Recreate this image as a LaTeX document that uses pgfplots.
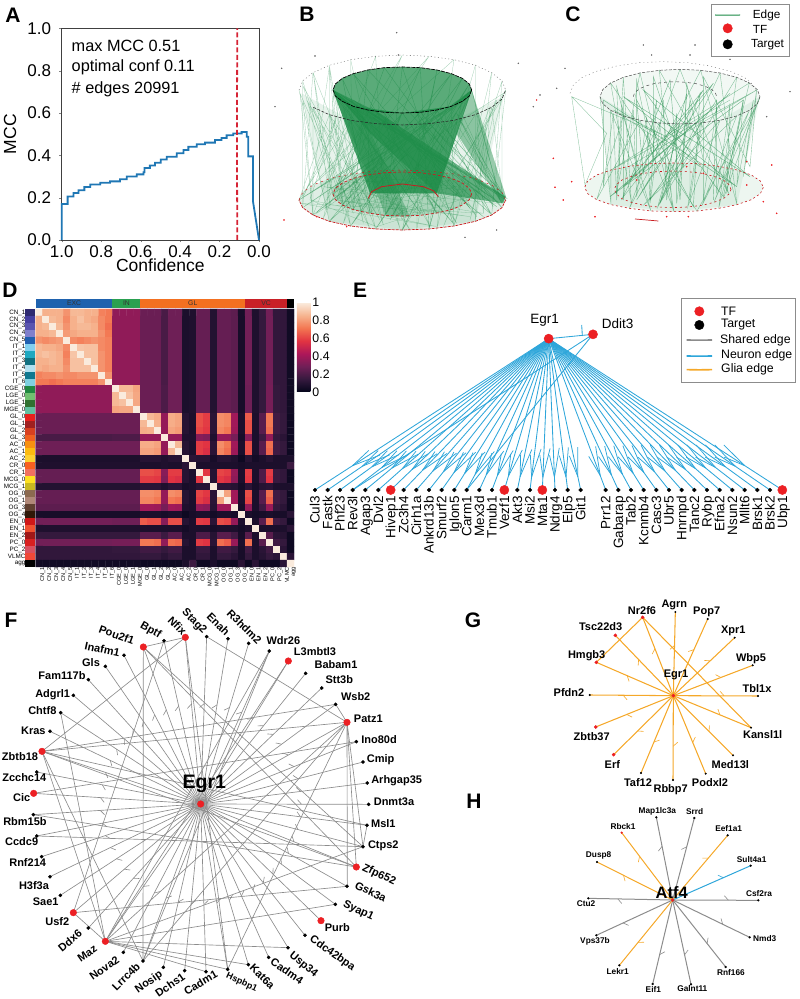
\documentclass[border=0pt]{standalone}
\usepackage{fontspec}
\setmainfont{Liberation Sans}
\usepackage{pgfplots}
\pgfplotsset{compat=1.18}
\usetikzlibrary{decorations.markings}
\definecolor{gr}{HTML}{1A8A45}
\definecolor{rd}{HTML}{EC2024}
\definecolor{fg}{HTML}{8C8C8C}
\definecolor{eb}{HTML}{2EA6DA}
\definecolor{eo}{HTML}{F5A829}
\definecolor{mccb}{HTML}{1F77B4}
\definecolor{redd}{HTML}{D62435}
\pgfplotsset{
 colormap={rocket}{rgb255(0cm)=(3,5,26) rgb255(1cm)=(53,25,62) rgb255(2cm)=(112,31,87) rgb255(3cm)=(173,23,89) rgb255(4cm)=(225,51,66) rgb255(5cm)=(243,118,81) rgb255(6cm)=(246,180,143) rgb255(7cm)=(250,235,221)},
 net/.style={hide axis,scale only axis,clip=false,y dir=reverse,anchor=center,enlargelimits=false},
}
\tikzset{
 bb/.style n args={2}{postaction={decorate},decoration={markings,mark=at position #1 with {\draw[#2,line width=.6pt,solid] (0,0)--(-4pt,4.5pt);}}},
 bbE/.style n args={2}{postaction={decorate},decoration={markings,mark=at position #1 with {\draw[#2,line width=.75pt,solid] (0,0)--(-4pt,6pt);\draw[#2,line width=.75pt,solid] (0,0)--(3pt,-4pt);}}},
 fl/.style={font=\fontsize{11}{12}\selectfont\bfseries,inner sep=0pt},
 gl/.style={font=\fontsize{11}{12}\selectfont\bfseries,inner sep=0pt},
 hl/.style={font=\fontsize{8.3}{9}\selectfont\bfseries,inner sep=0pt},
 el/.style={font=\fontsize{13.5}{14}\selectfont,inner sep=0pt,rotate=90,anchor=base east},
 let/.style={font=\fontsize{21}{21}\selectfont\bfseries,inner sep=0pt},
}
% heatmap rows
\def\Dcoords{}
\newcommand\Drow[2]{\edef\tmp{#2}\foreach \v [count=\i from 0] in \tmp {\xdef\Dcoords{\Dcoords(\i.5,\the\numexpr36-#1\relax.5)[\v]}}}
\def\G#1#2{#1,#1,#1,#1,#1,#1,#1,#1,#1,#1,#1,#2,#2,#2,#2}
\def\PE{.27,.27,.27,.19,.28,.28,.07,.08,.26,.26,.09,.26,.26,.24,.06,.29,.08,.14,.29,.13,.13,.04}
\def\PI{.27,.27,.27,.2,.28,.28,.07,.08,.26,.26,.09,.26,.26,.24,.06,.28,.08,.14,.3,.14,.13,.04}
\def\IE{.36,.36,.36,.36}
\def\EI{.36,.36,.36,.36,.36,.36,.36,.36,.36,.36,.36}
\Drow{0}{1,.85,.85,.85,.78,.87,.87,.85,.85,.74,.72,\IE,\PE}
\Drow{1}{.85,1,.87,.85,.76,.85,.89,.85,.83,.76,.72,\IE,\PE}
\Drow{2}{.85,.87,1,.87,.78,.85,.87,.87,.85,.76,.7,\IE,\PE}
\Drow{3}{.85,.85,.87,1,.8,.83,.85,.85,.85,.78,.72,\IE,\PE}
\Drow{4}{.78,.76,.78,.8,1,.76,.74,.76,.78,.76,.74,\IE,\PE}
\Drow{5}{.87,.85,.85,.83,.76,1,.9,.89,.89,.76,.74,\IE,\PE}
\Drow{6}{.87,.89,.87,.85,.74,.9,1,.89,.89,.78,.74,\IE,\PE}
\Drow{7}{.85,.85,.87,.85,.76,.89,.89,1,.89,.78,.74,\IE,\PE}
\Drow{8}{.85,.83,.85,.85,.78,.89,.89,.89,1,.78,.74,\IE,\PE}
\Drow{9}{.74,.76,.76,.78,.76,.76,.78,.78,.78,1,.78,\IE,\PE}
\Drow{10}{.72,.72,.7,.72,.74,.74,.74,.74,.74,.78,1,\IE,\PE}
\Drow{11}{\EI,1,.87,.87,.82,\PI}
\Drow{12}{\EI,.87,1,.89,.83,\PI}
\Drow{13}{\EI,.87,.89,1,.83,\PI}
\Drow{14}{\EI,.82,.83,.83,1,\PI}
\Drow{15}{\G{.27}{.27},1,.87,.84,.37,.84,.82,.1,.07,.63,.59,.11,.77,.75,.4,.07,.66,.07,.23,.72,.17,.14,.03}
\Drow{16}{\G{.27}{.27},.87,1,.85,.37,.84,.82,.1,.07,.63,.59,.11,.77,.75,.4,.07,.63,.07,.23,.72,.17,.14,.03}
\Drow{17}{\G{.27}{.27},.84,.85,1,.37,.82,.8,.1,.07,.61,.58,.11,.75,.72,.39,.07,.63,.07,.23,.7,.17,.14,.03}
\Drow{18}{\G{.19}{.2},.37,.37,.37,1,.37,.37,.08,.08,.34,.32,.08,.37,.37,.3,.06,.34,.07,.16,.36,.14,.11,.03}
\Drow{19}{\G{.28}{.28},.84,.84,.82,.37,1,.87,.1,.07,.59,.57,.11,.77,.72,.4,.07,.63,.07,.23,.7,.17,.14,.03}
\Drow{20}{\G{.28}{.28},.82,.82,.8,.37,.87,1,.1,.07,.59,.55,.11,.75,.7,.39,.07,.63,.07,.23,.68,.17,.14,.03}
\Drow{21}{\G{.07}{.07},.1,.1,.1,.08,.1,.1,1,.11,.1,.1,.06,.1,.1,.08,.03,.1,.05,.07,.1,.07,.07,.07}
\Drow{22}{\G{.08}{.08},.07,.07,.07,.08,.07,.07,.11,1,.07,.07,.07,.07,.07,.07,.06,.07,.07,.07,.07,.07,.07,.16}
\Drow{23}{\G{.26}{.26},.63,.63,.61,.34,.59,.59,.1,.07,1,.58,.1,.61,.59,.37,.07,.59,.07,.2,.59,.15,.13,.03}
\Drow{24}{\G{.26}{.26},.59,.59,.58,.32,.57,.55,.1,.07,.58,1,.1,.58,.55,.35,.07,.58,.07,.2,.57,.15,.13,.03}
\Drow{25}{\G{.09}{.09},.11,.11,.11,.08,.11,.11,.06,.07,.1,.1,1,.11,.11,.1,.05,.11,.06,.1,.11,.07,.07,.07}
\Drow{26}{\G{.26}{.26},.77,.77,.75,.37,.77,.75,.1,.07,.61,.58,.11,1,.82,.4,.07,.63,.07,.23,.7,.17,.14,.03}
\Drow{27}{\G{.26}{.26},.75,.75,.72,.37,.72,.7,.1,.07,.59,.55,.11,.82,1,.4,.07,.61,.07,.23,.66,.17,.14,.03}
\Drow{28}{\G{.24}{.24},.4,.4,.39,.3,.4,.39,.08,.07,.37,.35,.1,.4,.4,1,.06,.37,.07,.17,.38,.14,.11,.03}
\Drow{29}{\G{.06}{.06},.07,.07,.07,.06,.07,.07,.03,.06,.07,.07,.05,.07,.07,.06,1,.07,.05,.06,.07,.06,.06,.11}
\Drow{30}{\G{.29}{.28},.66,.63,.63,.34,.63,.63,.1,.07,.59,.58,.11,.63,.61,.37,.07,1,.07,.23,.7,.17,.14,.03}
\Drow{31}{\G{.08}{.08},.07,.07,.07,.07,.07,.07,.05,.07,.07,.07,.06,.07,.07,.07,.05,.07,1,.07,.07,.07,.07,.11}
\Drow{32}{\G{.14}{.14},.23,.23,.23,.16,.23,.23,.07,.07,.2,.2,.1,.23,.23,.17,.06,.23,.07,1,.23,.11,.1,.03}
\Drow{33}{\G{.29}{.3},.72,.72,.7,.36,.7,.68,.1,.07,.59,.57,.11,.7,.66,.38,.07,.7,.07,.23,1,.17,.14,.03}
\Drow{34}{\G{.13}{.14},.17,.17,.17,.14,.17,.17,.07,.07,.15,.15,.07,.17,.17,.14,.06,.17,.07,.11,.17,1,.11,.03}
\Drow{35}{\G{.13}{.13},.14,.14,.14,.11,.14,.14,.07,.07,.13,.13,.07,.14,.14,.11,.06,.14,.07,.1,.14,.11,1,.11}
\Drow{36}{\G{.04}{.04},.03,.03,.03,.03,.03,.03,.07,.16,.03,.03,.07,.03,.03,.03,.11,.03,.11,.03,.03,.03,.11,1}
\newcommand\Sl[2]{\definecolor{sl#1}{HTML}{#2}\addplot[fill=sl#1,draw=none] coordinates {(-1.53,#1)(-.17,#1)(-.17,#1+1)(-1.53,#1+1)} --cycle;}
\newcommand\St[3]{\definecolor{st#1}{HTML}{#3}\addplot[fill=st#1,draw=none] coordinates {(#1,37.1)(#2,37.1)(#2,38.45)(#1,38.45)} --cycle;}
% network macros
\newcommand\Fe[4]{\addplot[fg,line width=.65pt] coordinates {(#1,#2)(#3,#4)};}
\newcommand\Ft[6]{\addplot[fg,line width=.65pt,bb={.6}{fg}] coordinates {(602,642)(#1,#2)};
 \addplot[only marks,mark=*,mark size=1.6pt,black] coordinates {(#1,#2)};
 \node[fl,rotate=#6] at (axis cs:#4,#5) {#3};}
\newcommand\Fr[6]{\addplot[fg,line width=.65pt,bb={.6}{fg}] coordinates {(602,642)(#1,#2)};
 \addplot[only marks,mark=*,mark size=3.3pt,rd] coordinates {(#1,#2)};
 \node[fl,rotate=#6] at (axis cs:#4,#5) {#3};}
\newcommand\Et[2]{\addplot[eb,line width=.85pt,bbE={.75}{eb}] coordinates {(626,176)(#1,630)};
 \addplot[only marks,mark=*,mark size=1.9pt,black] coordinates {(#1,630)};
 \node[el] at (axis cs:#1+14,648) {#2};}
\newcommand\Er[2]{\addplot[eb,line width=.85pt,bbE={.75}{eb}] coordinates {(626,176)(#1,630)};
 \addplot[only marks,mark=*,mark size=4.6pt,rd] coordinates {(#1,630)};
 \node[el] at (axis cs:#1+14,648) {#2};}
\newcommand\Gt[5]{\addplot[eo,line width=1.05pt,bb={.6}{eo}] coordinates {(670,287)(#1,#2)};
 \addplot[only marks,mark=*,mark size=#5pt,black] coordinates {(#1,#2)};
 \node[gl] at (axis cs:#3) {#4};}
\newcommand\Gr[5]{\addplot[eo,line width=1.05pt,bb={.6}{eo}] coordinates {(670,287)(#1,#2)};
 \addplot[only marks,mark=*,mark size=#5pt,rd] coordinates {(#1,#2)};
 \node[gl] at (axis cs:#3) {#4};}
\newcommand\Hn[5]{\addplot[#4,line width=1pt,bb={.65}{#4}] coordinates {(668,900)(#1,#2)};
 \addplot[only marks,mark=*,mark size=.9pt,#5] coordinates {(#1,#2)};}
\begin{document}
\begin{tikzpicture}[x=1pt,y=1pt]
\path[use as bounding box] (0,0) rectangle (800,999);
% ---------- A
\begin{axis}[scale only axis,anchor=center,at={(160.35pt,864.85pt)},width=197.3pt,height=211.7pt,
 xmin=0,xmax=1,ymin=0,ymax=1,x dir=reverse,
 xtick={0,.2,.4,.6,.8,1},ytick={0,.2,.4,.6,.8,1},tick align=outside,major tick length=2.5pt,
 xtick pos=bottom,ytick pos=left,
 /pgf/number format/assume math mode=true,/pgf/number format/fixed,/pgf/number format/fixed zerofill,/pgf/number format/precision=1,
 tick label style={font=\fontsize{17}{18}\selectfont,inner sep=0pt},
 yticklabel style={xshift=-8pt},xticklabel style={yshift=-3pt},
 label style={font=\fontsize{17.5}{18}\selectfont,inner sep=0pt},
 xlabel={Confidence},ylabel={MCC},
 xlabel style={at={(axis description cs:.5,-.121)},anchor=center},
 ylabel style={at={(axis description cs:-.262,.5)},anchor=center},
 axis line style={black!75,line width=.6pt},clip=false]
\addplot[mccb,line width=1.8pt] coordinates {(1,0)(1,.17)(.97,.17)(.97,.205)(.94,.205)(.94,.222)(.915,.222)(.915,.235)(.885,.235)(.885,.25)(.855,.25)(.855,.262)(.805,.262)(.805,.27)(.755,.27)(.755,.277)(.705,.277)(.705,.287)(.67,.287)(.67,.3)(.62,.3)(.62,.31)(.585,.31)(.585,.32)(.58,.32)(.58,.34)(.553,.34)(.553,.352)(.527,.352)(.527,.365)(.498,.365)(.498,.38)(.468,.38)(.468,.393)(.417,.393)(.417,.41)(.383,.41)(.383,.425)(.358,.425)(.358,.44)(.316,.44)(.316,.452)(.274,.452)(.274,.46)(.223,.46)(.223,.472)(.19,.472)(.19,.482)(.164,.482)(.164,.495)(.13,.495)(.13,.503)(.088,.503)(.088,.51)(.0625,.51)(.0625,.488)(.054,.488)(.054,.395)(.03,.395)(.03,.18)(0,0)};
\addplot[draw=redd,line width=1.8pt,dash pattern=on 5pt off 2.5pt] coordinates {(.11,0)(.112,.5)(.11,1)};
\end{axis}
\node[anchor=west,inner sep=0pt,font=\fontsize{16.3}{17}\selectfont] at (71.5,953) {max MCC 0.51};
\node[anchor=west,inner sep=0pt,font=\fontsize{16.3}{17}\selectfont] at (71.5,932) {optimal conf 0.11};
\node[anchor=west,inner sep=0pt,font=\fontsize{16.3}{17}\selectfont] at (71.5,910) {\# edges 20991};
% ---------- B
\begin{axis}[net,at={(535pt,879pt)},width=530pt,height=240pt,xmin=0,xmax=1590,ymin=0,ymax=720]
\addplot[fill=gr,fill opacity=.1,draw=none] coordinates {(95,280)(178,664)(397,690)(616,664)(700,290)(552,361)(397,375)(242,361)} --cycle;
\addplot[fill=gr,fill opacity=.14,draw=none] coordinates {(87,600)(98,623)(129,645)(178,664)(242,678)(317,687)(397,690)(477,687)(552,678)(616,664)(665,645)(696,623)(707,600)(696,577)(665,555)(616,536)(552,522)(477,513)(397,510)(317,513)(242,522)(178,536)(129,555)(98,577)} --cycle;
\addplot[fill=gr,fill opacity=.18,draw=none] coordinates {(605,582)(598,599)(577,615)(544,629)(501,639)(451,646)(397,648)(343,646)(293,639)(250,629)(217,615)(196,599)(189,582)(196,565)(217,549)(250,535)(293,525)(343,518)(397,516)(451,518)(501,525)(544,535)(577,549)(598,565)} --cycle;
\addplot[fill=gr,fill opacity=.72,draw=none] coordinates {(605,270)(598,288)(577,304)(544,319)(501,330)(451,337)(397,339)(343,337)(293,330)(250,319)(217,304)(196,288)(189,270)(196,252)(217,235)(250,221)(293,210)(343,203)(397,201)(451,203)(501,210)(544,221)(577,235)(598,252)} --cycle;
\addplot[fill=gr,fill opacity=.8,draw=none] coordinates {(189,270)(300,580)(500,580)(605,270)(544,319)(397,339)(250,319)} --cycle;
\addplot[fill=gr,fill opacity=.6,draw=none] coordinates {(189,270)(330,340)(706,590)(700,610)(500,580)(300,400)} --cycle;
\addplot[fill=gr,fill opacity=.45,draw=none] coordinates {(605,270)(708,590)(695,610)(560,400)} --cycle;
\addplot[fill=gr,fill opacity=.35,draw=none] coordinates {(190,280)(350,650)(420,650)(270,330)} --cycle;
\addplot[gr,line width=.35pt,opacity=.55] coordinates {(189,270)(452,640)(196,288)(640,650)(217,304)(700,590)(250,319)(550,670)(189,270)(707,600)(293,330)(300,640)(217,235)(400,648)(343,337)(500,639)(250,221)(600,625)(397,339)(250,629)(293,210)(696,623)(451,337)(200,600)(343,203)(665,645)(501,330)(345,645)(397,201)(552,678)(544,319)(300,580)(451,203)(477,687)(577,304)(430,580)(501,210)(397,690)(598,288)(500,580)(605,270)(317,687)(598,252)(360,660)(577,235)(242,678)(544,221)(178,664)(605,270)(129,645)(598,288)(98,623)(544,319)(87,600)(501,330)(217,615)(397,339)(196,565)(293,330)(189,582)(605,270)(690,600)(560,340)(700,585)(480,335)(710,595)(189,270)(690,610)(250,300)(680,620)(300,320)(660,640)};
\addplot[gr,line width=.3pt,opacity=.4] coordinates {(87,270)(178,664)(98,297)(129,645)(129,322)(242,678)(178,344)(87,600)(242,361)(317,687)(129,218)(98,623)(98,243)(216,615)(178,196)(250,629)(242,179)(343,646)(317,169)(178,536)(397,165)(242,522)(477,169)(129,555)(552,179)(477,687)(616,196)(616,664)(665,218)(552,678)(696,243)(665,645)(707,270)(552,522)(696,297)(696,577)(665,322)(616,536)(616,344)(397,690)(552,361)(707,600)(477,371)(665,555)};
\addplot[gr,line width=.3pt,opacity=.4] coordinates {(130,322)(300,687)(178,344)(420,690)(242,361)(129,645)(90,280)(250,640)(110,300)(330,660)(100,260)(190,590)(130,220)(180,620)(178,200)(120,600)(200,350)(100,590)(240,300)(160,655)(300,350)(220,670)(350,350)(140,640)(700,280)(600,660)(680,300)(520,680)(660,320)(640,640)(620,340)(690,590)(580,350)(500,690)(540,360)(670,620)(500,370)(440,690)(450,360)(620,650)(400,370)(560,670)(350,360)(480,680)(300,350)(390,685)(260,340)(340,675)(220,320)(280,670)(200,300)(220,640)(190,280)(170,630)};
\addplot[gr,line width=.3pt,opacity=.35] coordinates {(190,585)(600,650)(200,600)(450,640)(220,550)(520,530)(260,620)(560,560)(300,530)(400,640)(350,520)(300,640)(420,520)(500,640)(480,525)(230,610)(540,540)(380,645)(590,570)(270,540)(600,590)(320,680)(120,600)(500,680)(90,610)(640,640)(160,560)(680,610)};
\addplot[black!70,line width=.35pt,dash pattern=on 1pt off 2.5pt] coordinates {(87,270)(98,243)(129,218)(178,196)(242,179)(317,169)(397,165)(477,169)(552,179)(616,196)(665,218)(696,243)(707,270)};
\addplot[black!85,line width=.55pt,dash pattern=on 3pt off 1.5pt] coordinates {(130,322)(178,344)(242,361)(317,371)(397,375)(477,371)(552,361)(616,344)(665,322)(696,297)(707,270)};
\addplot[black,line width=.7pt,dash pattern=on 4pt off 1pt] coordinates {(605,270)(598,288)(577,304)(544,319)(501,330)(451,337)(397,339)(343,337)(293,330)(250,319)(217,304)(196,288)(189,270)(196,252)(217,235)(250,221)(293,210)(343,203)(397,201)(451,203)(501,210)(544,221)(577,235)(598,252)(605,270)};
\addplot[rd!85!black,line width=.7pt,dash pattern=on 3pt off 1pt] coordinates {(707,600)(696,623)(665,645)(616,664)(552,678)(477,687)(397,690)(317,687)(242,678)(178,664)(129,645)(98,623)(87,600)};
\addplot[rd!85!black,line width=.5pt,dash pattern=on 2pt off 4pt] coordinates {(87,600)(98,577)(129,555)(178,536)(242,522)(317,513)(397,510)(477,513)(552,522)(616,536)(665,555)(696,577)(707,600)};
\addplot[rd!85!black,line width=.7pt,dash pattern=on 3pt off 2pt] coordinates {(605,582)(598,599)(577,615)(544,629)(501,639)(451,646)(397,648)(343,646)(293,639)(250,629)(217,615)(196,599)(189,582)(196,565)(217,549)(250,535)(293,525)(343,518)(397,516)(451,518)(501,525)(544,535)(577,549)(598,565)(605,582)};
\addplot[rd!85!black,line width=.8pt] coordinates {(295,595)(305,575)(335,560)(397,552)(460,560)(490,572)(505,590)};
\addplot[only marks,mark=*,mark size=.5pt,black!60] coordinates {(35,205)(15,320)(135,168)(385,165)(380,98)(585,712)(680,690)(745,190)(810,285)(790,320)};
\addplot[only marks,mark=*,mark size=.5pt,rd] coordinates {(42,660)(230,680)(140,650)(800,300)};
\end{axis}
% ---------- C
\begin{axis}[net,at={(535pt,879pt)},width=530pt,height=240pt,xmin=0,xmax=1590,ymin=0,ymax=720]
\addplot[fill=gr,fill opacity=.08,draw=none] coordinates {(990,290)(1023,614)(1212,635)(1401,614)(1470,290)(1350,361)(1230,372)(1110,361)} --cycle;
\addplot[fill=gr,fill opacity=.08,draw=none] coordinates {(1480,562)(1471,581)(1444,599)(1401,614)(1346,625)(1281,633)(1212,635)(1143,633)(1078,625)(1023,614)(980,599)(953,581)(944,562)(953,543)(980,525)(1023,510)(1078,499)(1143,491)(1212,489)(1281,491)(1346,499)(1401,510)(1444,525)(1471,543)} --cycle;
\addplot[fill=gr,fill opacity=.06,draw=none] coordinates {(1470,290)(1462,311)(1438,331)(1400,348)(1350,361)(1292,369)(1230,372)(1168,369)(1110,361)(1060,348)(1022,331)(998,311)(990,290)(998,269)(1022,249)(1060,232)(1110,219)(1168,211)(1230,208)(1292,211)(1350,219)(1400,232)(1438,249)(1462,269)} --cycle;
\addplot[gr,line width=.4pt,opacity=.5] coordinates {(990,290)(1023,614)(1022,331)(1143,633)(1060,348)(980,599)(1110,361)(1212,635)(1168,369)(1056,596)(1230,372)(1163,621)(1292,369)(1253,621)(1350,361)(1120,616)(1400,348)(1296,616)(1438,331)(1332,607)(1470,290)(1360,596)(1462,311)(1281,633)(1022,249)(1084,607)(1060,232)(1039,582)(1110,219)(1208,623)(1168,211)(1377,582)(1230,208)(1078,625)(1292,211)(1401,614)(1350,219)(1163,621)(1400,232)(1346,625)(1438,249)(1023,510)(1462,269)(1078,499)};
\addplot[gr,line width=.4pt,opacity=.6] coordinates {(1000,300)(1400,560)(1060,290)(1440,530)(1120,270)(1360,590)(1420,300)(1020,590)(1380,280)(1060,560)(1330,250)(1100,600)(1300,270)(1080,540)(1200,240)(1230,600)(1250,280)(1170,610)(1290,280)(1270,620)(1100,300)(1120,520)(1160,300)(1140,600)(1340,300)(1330,600)};
\addplot[gr,line width=.4pt,opacity=.5] coordinates {(1000,300)(1000,560)(1030,340)(1040,600)(1060,300)(1060,600)(1090,330)(1100,590)(1130,350)(1140,610)(1180,300)(1190,600)(1220,340)(1220,610)(1260,300)(1260,600)(1300,340)(1300,600)(1340,320)(1340,580)(1380,310)(1370,580)(1420,300)(1400,560)(1450,300)(1420,530)(1460,270)(1440,500)(1300,230)(1300,480)(1250,250)(1240,500)(1150,230)(1150,480)(1100,240)(1100,500)(1040,260)(1050,500)};
\addplot[gr,line width=.35pt,opacity=.5] coordinates {(905,290)(945,555)(1010,400)(905,290)(1190,410)(1030,330)(1290,500)(1190,410)(1380,300)};
\addplot[black!65,line width=.35pt,dash pattern=on 1pt off 3pt] coordinates {(900,280)(910,255)(937,232)(982,213)(1040,198)(1108,188)(1180,185)(1252,188)(1320,198)(1378,213)(1423,232)(1450,255)(1460,280)};
\addplot[black!70,line width=.5pt,dash pattern=on 3pt off 1.5pt] coordinates {(1470,290)(1462,311)(1438,331)(1400,348)(1350,361)(1292,369)(1230,372)(1168,369)(1110,361)(1060,348)(1022,331)(998,311)(990,290)(998,269)(1022,249)(1060,232)(1110,219)(1168,211)(1230,208)(1292,211)(1350,219)(1400,232)(1438,249)(1462,269)(1470,290)};
\addplot[black!75,line width=.45pt,dash pattern=on 3pt off 3pt] coordinates {(1090,290)(1094,278)(1107,267)(1127,258)(1152,251)(1183,247)(1215,245)(1247,247)(1278,251)(1303,258)(1323,267)(1336,278)(1340,290)};
\addplot[rd!85!black,line width=.6pt,dash pattern=on 2pt off 2.5pt] coordinates {(1480,562)(1471,581)(1444,599)(1401,614)(1346,625)(1281,633)(1212,635)(1143,633)(1078,625)(1023,614)(980,599)(953,581)(944,562)(953,543)(980,525)(1023,510)(1078,499)(1143,491)(1212,489)(1281,491)(1346,499)(1401,510)(1444,525)(1471,543)(1480,562)};
\addplot[rd!85!black,line width=.6pt,dash pattern=on 2pt off 3pt] coordinates {(1383,568)(1377,582)(1360,596)(1332,607)(1296,616)(1253,621)(1208,623)(1163,621)(1120,616)(1084,607)(1056,596)(1039,582)(1033,568)(1039,554)(1056,540)(1084,529)(1120,520)(1163,515)(1208,513)(1253,515)(1296,520)(1332,529)(1360,540)(1377,554)(1383,568)};
\addplot[rd!85!black,line width=.7pt] coordinates {(1095,657)(1165,663)};
\addplot[only marks,mark=*,mark size=.6pt,rd] coordinates {(855,562)(880,600)(850,475)(905,545)(1520,640)(1505,495)(1430,485)(1430,555)(1480,605)(975,650)(1190,650)(1255,650)(1100,540)(1300,520)(1250,500)};
\addplot[only marks,mark=*,mark size=.5pt,black!60] coordinates {(860,265)(885,205)(1120,135)(1275,135)(1145,165)(1260,165)(1380,178)(1560,275)(1490,350)};
% legend of C
\addplot[fill=white,draw=black!45,line width=.7pt] coordinates {(1323,12)(1557,12)(1557,170)(1323,170)} --cycle;
\addplot[draw=gr,line width=1pt] coordinates {(1335,45)(1372,45.5)(1410,45)};
\addplot[only marks,mark=*,mark size=4.7pt,rd] coordinates {(1373,85)};
\addplot[only marks,mark=*,mark size=4.7pt,black] coordinates {(1373,133)};
\node[anchor=west,inner sep=0pt,font=\fontsize{11.8}{12}\selectfont] at (axis cs:1448,45) {Edge};
\node[anchor=west,inner sep=0pt,font=\fontsize{11.8}{12}\selectfont] at (axis cs:1448,88) {TF};
\node[anchor=west,inner sep=0pt,font=\fontsize{11.8}{12}\selectfont] at (axis cs:1443,133) {Target};
\end{axis}
% ---------- D
\begin{axis}[scale only axis,anchor=center,at={(164.85pt,561pt)},width=258.3pt,height=258pt,
 xmin=0,xmax=37,ymin=0,ymax=37,clip=false,enlargelimits=false,axis line style={draw=none},tick style={draw=none},
 colormap name=rocket,point meta min=0,point meta max=1,
 xtick={.5,1.5,...,36.5},ytick={.5,1.5,...,36.5},
 xticklabels={CN\_1,CN\_2,CN\_3,CN\_4,CN\_5,IT\_1,IT\_2,IT\_3,IT\_4,IT\_5,IT\_6,CGE\_0,LGE\_0,LGE\_1,MGE\_0,GL\_0,GL\_1,GL\_2,GL\_3,AC\_0,AC\_1,AC\_2,CR\_0,CR\_1,MCG\_0,MCG\_1,OG\_0,OG\_1,OG\_3,OG\_4,EN\_0,EN\_1,EN\_2,PC\_0,PC\_2,VLMC,agg},
 yticklabels={agg,VLMC,PC\_2,PC\_0,EN\_2,EN\_1,EN\_0,OG\_4,OG\_3,OG\_1,OG\_0,MCG\_1,MCG\_0,CR\_1,CR\_0,AC\_2,AC\_1,AC\_0,GL\_3,GL\_2,GL\_1,GL\_0,MGE\_0,LGE\_1,LGE\_0,CGE\_0,IT\_6,IT\_5,IT\_4,IT\_3,IT\_2,IT\_1,CN\_5,CN\_4,CN\_3,CN\_2,CN\_1},
 xticklabel style={rotate=90,anchor=east,font=\fontsize{5.6}{5.6}\selectfont,inner sep=0pt,yshift=-3.5pt},
 yticklabel style={font=\fontsize{6.3}{6.3}\selectfont,inner sep=0pt,xshift=-10pt},
 colorbar,colorbar style={at={(1.0116,1.0244)},anchor=north west,width=13.3pt,height=89.3pt,
  ytick={0,.2,.4,.6,.8,1},yticklabels={0,0.2,0.4,0.6,0.8,1},tick style={draw=none},axis line style={draw=none},
  yticklabel style={font=\fontsize{12.3}{13}\selectfont,inner sep=0pt,xshift=2pt}}]
\edef\tmp{\noexpand\addplot[matrix plot*,point meta=explicit,mesh/cols=37,mesh/rows=37] coordinates {\Dcoords};}\tmp
\Sl{36}{2E2A70}\Sl{35}{453FA0}\Sl{34}{5A55B0}\Sl{33}{8080CC}\Sl{32}{2060B0}\Sl{31}{80D0F0}\Sl{30}{20A8C0}\Sl{29}{107080}\Sl{28}{B0E0F0}\Sl{27}{107890}\Sl{26}{80D0E0}
\Sl{25}{208840}\Sl{24}{70C070}\Sl{23}{307030}\Sl{22}{60C0A0}
\Sl{21}{E8201C}\Sl{20}{A02020}\Sl{19}{D84020}\Sl{18}{F06020}\Sl{17}{F89010}\Sl{16}{FDBA10}\Sl{15}{FDD030}\Sl{14}{F86020}\Sl{13}{F07060}\Sl{12}{FDE020}\Sl{11}{C8B820}
\Sl{10}{8C6A50}\Sl{9}{B08878}\Sl{8}{604030}\Sl{7}{301808}\Sl{6}{D01818}\Sl{5}{F05030}\Sl{4}{A01818}\Sl{3}{D82020}\Sl{2}{D85060}\Sl{1}{F04838}\Sl{0}{000000}
\St{0}{11}{1F62AE}\St{11}{15}{2AA050}\St{15}{30}{F37021}\St{30}{36}{C92027}\St{36}{37}{000000}
\node[font=\fontsize{6.8}{7}\selectfont,black!80,inner sep=0pt] at (axis cs:5.5,37.8) {EXC};
\node[font=\fontsize{6.8}{7}\selectfont,black!80,inner sep=0pt] at (axis cs:13,37.8) {IN};
\node[font=\fontsize{6.8}{7}\selectfont,black!80,inner sep=0pt] at (axis cs:22.5,37.8) {GL};
\node[font=\fontsize{6.8}{7}\selectfont,black!80,inner sep=0pt] at (axis cs:33,37.8) {VC};
\end{axis}
% ---------- E
\begin{axis}[net,at={(570pt,564pt)},width=460pt,height=310pt,xmin=0,xmax=1380,ymin=0,ymax=930]
\addplot[eb,line width=.85pt] coordinates {(626,176)(759,163)};
\addplot[draw=eb,line width=.85pt] coordinates {(725,135)(726,150)(727,168)};
\addplot[eb,line width=.85pt] coordinates {(759,163)(380,630)};
\addplot[eb,line width=.85pt] coordinates {(759,163)(38,630)};
\Et{-75}{Cul3}\Et{-37}{Fastk}\Et{0}{Phf23}\Et{38}{Rev3l}\Et{76}{Agap3}\Et{115}{Dvl2}\Er{152}{Hivep1}\Et{191}{Zc3h4}\Et{229}{Cirh1a}\Et{267}{Ankrd13b}\Et{305}{Smurf2}\Et{343}{Iglon5}\Et{380}{Carm1}\Et{418}{Mex3d}\Et{456}{Tmub1}\Er{493}{Vezf1}\Et{532}{Akt3}\Et{570}{Msi2}\Er{607}{Mta1}\Et{645}{Ndrg4}\Et{683}{Elp5}\Et{722}{Git1}
\Et{797}{Prr12}\Et{835}{Gabarap}\Et{873}{Tab2}\Et{911}{Kcnmb4}\Et{949}{Casc3}\Et{987}{Ubr5}\Et{1025}{Hnrnpd}\Et{1063}{Tanc2}\Et{1101}{Rybp}\Et{1139}{Efna2}\Et{1177}{Nsun2}\Et{1214}{Mllt6}\Et{1252}{Brsk1}\Et{1290}{Brsk2}\Er{1327}{Ubp1}
\addplot[only marks,mark=*,mark size=4.6pt,rd] coordinates {(626,176)(759,163)};
\node[inner sep=0pt,font=\fontsize{13.5}{14}\selectfont] at (axis cs:614,120) {Egr1};
\node[inner sep=0pt,font=\fontsize{13.5}{14}\selectfont] at (axis cs:833,130) {Ddit3};
\addplot[fill=white,draw=black!45,line width=.7pt] coordinates {(1024,55)(1366,55)(1366,306)(1024,306)} --cycle;
\addplot[only marks,mark=*,mark size=4.7pt,rd] coordinates {(1078,94)};
\addplot[only marks,mark=*,mark size=4.7pt,black] coordinates {(1078,135)};
\addplot[draw=fg,line width=1.6pt] coordinates {(1040,180)(1078,180.5)(1116,180)};
\addplot[draw=eb,line width=1.6pt] coordinates {(1040,228)(1078,228.5)(1116,228)};
\addplot[draw=eo,line width=1.6pt] coordinates {(1040,269)(1078,269.5)(1116,269)};
\node[anchor=west,inner sep=0pt,font=\fontsize{12.3}{13}\selectfont] at (axis cs:1143,94) {TF};
\node[anchor=west,inner sep=0pt,font=\fontsize{12.3}{13}\selectfont] at (axis cs:1143,135) {Target};
\node[anchor=west,inner sep=0pt,font=\fontsize{12.3}{13}\selectfont] at (axis cs:1140,180) {Shared edge};
\node[anchor=west,inner sep=0pt,font=\fontsize{12.3}{13}\selectfont] at (axis cs:1143,227) {Neuron edge};
\node[anchor=west,inner sep=0pt,font=\fontsize{12.3}{13}\selectfont] at (axis cs:1143,268) {Glia edge};
\end{axis}
% ---------- F
\begin{axis}[net,at={(220pt,204.5pt)},width=440pt,height=409pt,xmin=0,xmax=1320,ymin=0,ymax=1227]
\Fe{430}{171}{556}{142}\Fe{556}{142}{126}{484}\Fe{556}{142}{683}{1138}\Fe{430}{171}{429}{1113}\Fe{430}{171}{1069}{831}\Fe{430}{171}{1089}{770}\Fe{620}{140}{1041}{397}\Fe{1041}{397}{1007}{343}\Fe{1041}{397}{1042}{889}\Fe{1041}{397}{1069}{831}\Fe{1041}{397}{1089}{770}\Fe{1041}{397}{126}{484}\Fe{1041}{397}{316}{1054}\Fe{1041}{397}{429}{1113}\Fe{1041}{397}{683}{1138}\Fe{1007}{343}{126}{484}\Fe{126}{484}{1101}{706}\Fe{126}{484}{1069}{831}\Fe{126}{484}{316}{1054}\Fe{126}{484}{429}{1113}\Fe{101}{610}{1069}{455}\Fe{100}{674}{1069}{831}\Fe{110}{738}{1089}{770}\Fe{220}{968}{1041}{889}\Fe{220}{968}{316}{1054}\Fe{220}{968}{492}{152}\Fe{316}{1054}{1006}{943}\Fe{316}{1054}{864}{1073}\Fe{316}{1054}{745}{1124}\Fe{316}{1054}{618}{1145}\Fe{316}{1054}{683}{1138}\Fe{316}{1054}{1089}{770}\Fe{316}{1054}{865}{213}\Fe{316}{1054}{808}{183}\Fe{182}{368}{316}{1054}\Fe{429}{1113}{808}{183}\Fe{1089}{770}{1101}{706}
\Ft{620}{140}{Stag2}{582}{95}{-45}\Ft{684}{146}{Enah}{655}{103}{-45}\Ft{746}{160}{R3hdm2}{733}{110}{-45}\Ft{808}{183}{Wdr26}{850}{152}{0}
\Fr{865}{213}{L3mbtl3}{945}{184}{0}\Ft{917}{250}{Babam1}{1008}{225}{0}\Ft{965}{294}{Stt3b}{1018}{269}{0}\Ft{1007}{343}{Wsb2}{1067}{321}{0}\Fr{1041}{397}{Patz1}{1105}{386}{0}\Ft{1069}{455}{Ino80d}{1137}{449}{0}\Ft{1089}{516}{Cmip}{1142}{510}{0}\Ft{1102}{579}{Arhgap35}{1190}{573}{0}\Ft{1106}{643}{Dnmt3a}{1182}{636}{0}\Ft{1101}{706}{Msl1}{1150}{700}{0}\Ft{1089}{770}{Ctps2}{1150}{768}{0}
\Fr{1069}{831}{Zfp652}{1137}{855}{-25}\Ft{1041}{889}{Gsk3a}{1112}{905}{-25}\Ft{1006}{943}{Syap1}{1075}{963}{-25}\Fr{963}{992}{Purb}{1012}{1013}{0}\Ft{915}{1036}{Cdc42bpa}{997}{1090}{-35}\Ft{864}{1073}{Usp34}{910}{1125}{-40}\Ft{806}{1102}{Cadm4}{861}{1143}{-35}\Ft{745}{1124}{Kat6a}{787}{1160}{-45}
\Ft{683}{1138}{\fontsize{9}{10}\selectfont Hspbp1}{725}{1178}{-25}\Ft{618}{1145}{Cadm1}{602}{1178}{30}\Ft{554}{1142}{Dchs1}{510}{1185}{35}\Ft{490}{1132}{Nosip}{447}{1177}{35}\Ft{429}{1113}{Lrrc4b}{378}{1160}{45}\Ft{370}{1087}{Nova2}{313}{1135}{35}\Fr{316}{1054}{Maz}{262}{1090}{35}\Ft{265}{1014}{Ddx6}{210}{1052}{40}
\Fr{220}{968}{Usf2}{172}{995}{0}\Ft{181}{916}{Sae1}{137}{936}{0}\Ft{150}{860}{H3f3a}{102}{886}{0}\Ft{125}{800}{Rnf214}{83}{819}{0}\Ft{110}{738}{Ccdc9}{65}{756}{0}\Ft{100}{674}{Rbm15b}{75}{696}{0}\Fr{101}{610}{Cic}{65}{623}{0}\Ft{110}{546}{Zcchc14}{73}{564}{0}\Fr{126}{484}{Zbtb18}{60}{501}{0}\Ft{150}{424}{Kras}{100}{421}{0}\Ft{182}{368}{Chtf8}{127}{361}{0}\Ft{220}{316}{Adgrl1}{158}{313}{0}\Ft{265}{269}{Fam117b}{186}{256}{0}\Ft{316}{229}{Gls}{273}{218}{0}\Ft{372}{196}{Inafm1}{307}{178}{-12}\Fr{430}{171}{Pou2f1}{350}{135}{-20}\Ft{492}{152}{Bptf}{452}{122}{-30}\Fr{556}{142}{Nfix}{532}{107}{-45}
\addplot[only marks,mark=*,mark size=3.3pt,rd] coordinates {(602,642)};
\node[inner sep=0pt,font=\fontsize{19.5}{20}\selectfont\bfseries] at (axis cs:613,582) {Egr1};
\end{axis}
% ---------- G
\begin{axis}[net,at={(625pt,199.5pt)},width=350pt,height=399pt,xmin=0,xmax=1050,ymin=0,ymax=1197]
\addplot[eo,line width=1.05pt] coordinates {(578,52)(439,187)};
\addplot[eo,line width=1.05pt] coordinates {(578,52)(903,383)};
\Gt{676}{36}{673,15}{Agrn}{.8}\Gt{773}{57}{770,35}{Pop7}{.8}\Gt{854}{113}{850,92}{Xpr1}{.8}\Gt{908}{196}{903,175}{Wbp5}{.8}\Gt{924}{288}{921,267}{Tbl1x}{.8}\Gt{903}{383}{938,404}{Kansl1l}{.8}\Gt{849}{466}{841,495}{Med13l}{.8}\Gt{767}{521}{780,549}{Podxl2}{.8}\Gt{669}{540}{662,569}{Rbbp7}{.8}\Gt{573}{519}{564,548}{Taf12}{.8}\Gr{491}{464}{487,494}{Erf}{1.6}\Gr{437}{381}{425,411}{Zbtb37}{1.6}\Gt{419}{285}{357,279}{Pfdn2}{.8}\Gr{439}{187}{410,167}{Hmgb3}{1.6}\Gr{496}{106}{452,81}{Tsc22d3}{1.6}\Gr{578}{52}{576,31}{Nr2f6}{1.6}
\addplot[only marks,mark=*,mark size=1.6pt,rd] coordinates {(670,287)};
\node[gl] at (axis cs:678,226) {Egr1};
\end{axis}
% ---------- H
\begin{axis}[net,at={(625pt,199.5pt)},width=350pt,height=399pt,xmin=0,xmax=1050,ymin=0,ymax=1197]
\Hn{619}{652}{}{fg}{black}\Hn{733}{654}{}{fg}{black}\Hn{833}{706}{}{eo}{black}\Hn{902}{797}{}{eb}{black}\Hn{925}{901}{}{fg}{black}\Hn{899}{1012}{}{fg}{black}\Hn{827}{1101}{}{fg}{black}\Hn{723}{1153}{}{fg}{black}\Hn{608}{1152}{}{fg}{black}\Hn{508}{1096}{}{eo}{black}\Hn{439}{1006}{}{fg}{black}\Hn{415}{895}{}{fg}{black}\Hn{441}{786}{}{eo}{black}\Hn{515}{698}{}{eo}{rd}
\addplot[only marks,mark=*,mark size=1.5pt,rd] coordinates {(668,900)};
\node[hl] at (axis cs:622,633) {Map1lc3a};\node[hl] at (axis cs:734,635) {Srrd};\node[hl] at (axis cs:836,687) {Eef1a1};\node[hl] at (axis cs:905,778) {Sult4a1};\node[hl] at (axis cs:927,881) {Csf2ra};\node[hl] at (axis cs:944,1015) {Nmd3};\node[hl] at (axis cs:843,1118) {Rnf166};\node[hl] at (axis cs:727,1167) {Galnt11};\node[hl] at (axis cs:610,1167) {Eif1};\node[hl] at (axis cs:503,1114) {Lekr1};\node[hl] at (axis cs:435,1025) {Vps37b};\node[hl] at (axis cs:408,911) {Ctu2};\node[hl] at (axis cs:446,767) {Dusp8};\node[hl] at (axis cs:519,680) {Rbck1};
\node[inner sep=0pt,font=\fontsize{16.5}{17}\selectfont\bfseries] at (axis cs:665,877) {Atf4};
\end{axis}
% panel letters
\node[let] at (13,984) {A};\node[let] at (307,985) {B};\node[let] at (573,985) {C};
\node[let] at (10,709) {D};\node[let] at (360,709) {E};\node[let] at (11,379) {F};
\node[let] at (473,379) {G};\node[let] at (474,198) {H};
\end{tikzpicture}
\end{document}
